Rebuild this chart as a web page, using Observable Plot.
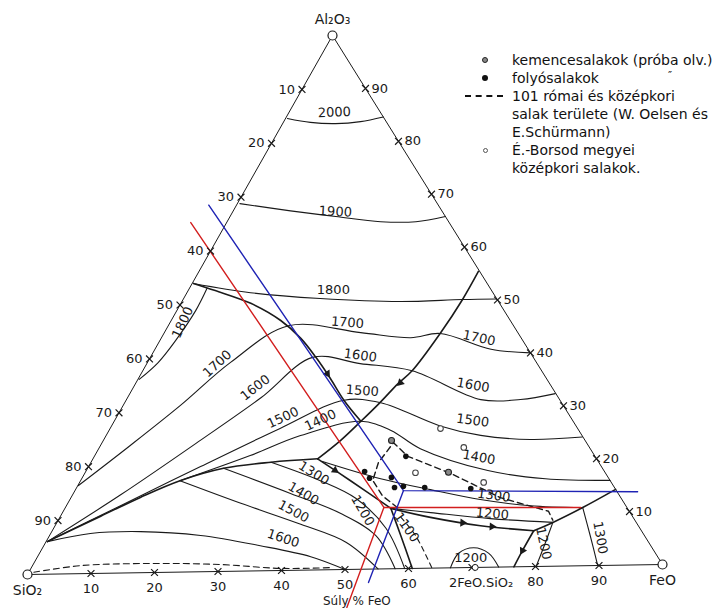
<!DOCTYPE html>
<html><head><meta charset="utf-8">
<script src="https://cdn.jsdelivr.net/npm/d3@7"></script>
<script src="https://cdn.jsdelivr.net/npm/@observablehq/plot@0.6"></script>
<style>
body{margin:0;background:#fff;}
#wrap{position:relative;width:715px;height:608px;overflow:hidden;background:#fff;}
#legend{position:absolute;left:0;top:0;width:715px;height:200px;font-family:"DejaVu Sans",sans-serif;font-size:14px;color:#111;pointer-events:none;}
.row{position:absolute;left:512px;line-height:18px;white-space:nowrap;}
.sym{position:absolute;}
</style></head>
<body><div id="wrap"><div id="chart"></div><div id="legend"></div></div>
<script>
// ---- ternary data: each point is [FeO %, Al2O3 %] (SiO2 = remainder) ----
const ticks = [10,20,30,40,50,60,70,80,90];
const baseTickText = ["10","20","30","40","50","60","2FeO.SiO₂","80","90"];
const vertexNames = ["SiO₂","FeO","Al₂O₃"];

// isotherms (°C)
const iso2000 = [[0.3,84.6],[4.3,83.8],[8.4,83.5],[12.2,83.8],[15.4,84.6]];
const iso1900 = [[0.4,68.8],[9.1,67.3],[16.8,66.1],[24.4,65.0],[30.0,64.9],[34.2,65.8]];
const iso1800 = [[0.2,54.0],[10.1,52.1],[21.7,50.8],[34.7,50.0],[44.4,50.2],[49.8,50.2]];
const iso1800arc = [[2.8,53.0],[3.0,48.9],[2.5,43.4],[1.7,39.3],[0.2,36.2]];
const iso1700 = [[0.1,16.5],[4.7,23.8],[9.1,31.2],[13.2,39.1],[19.1,45.8],[31.2,44.3],[39.6,43.2],[43.9,43.9],[53.4,40.8],[60.0,40.0]];
const iso1600 = [[0.2,6.1],[7.6,14.6],[15.4,24.6],[21.2,32.4],[25.8,39.8],[33.9,38.5],[42.8,37.0],[56.3,31.4],[62.6,31.3],[67.6,32.3]];
const iso1500 = [[0.2,6.1],[8.6,12.6],[17.8,19.7],[27.0,26.6],[34.6,31.7],[40.7,31.1],[52.2,26.6],[59.5,24.7],[67.8,23.8],[75.8,24.1]];
const iso1400 = [[15.8,17.1],[24.7,21.6],[30.9,25.2],[39.2,27.7],[44.8,25.9],[51.1,22.4],[63.8,18.1],[73.7,16.4],[84.1,15.9]];
const iso1300 = [[36.7,20.3],[47.5,16.9],[56.4,14.7],[65.2,12.7],[73.7,11.4],[82.2,10.9]];
const iso1200 = [[51.8,11.3],[58.5,10.4],[68.5,9.1],[78.8,8.2]];
const iso1300W = [[82.2,10.9],[86.0,5.5],[89.8,0]];
const iso1200W = [[78.8,8.2],[79.5,4.0],[80.1,0]];
const iso1200Fa = [[66.6,0],[66.6,2.7],[68.5,3.7],[71.4,2.6],[74.2,0]];
const iso1600S = [[0.2,6.1],[6.3,7.5],[14.1,7.7],[24.0,6.8],[34.4,4.7],[43.4,2.5],[50.0,0]];
const iso1500S = [[15.8,17.1],[27.5,12.7],[38.9,8.6],[47.7,5.1],[55.2,0]];
const iso1400S = [[21.6,19.3],[34.5,14.4],[44.3,10.5],[51.8,6.3],[57.9,0]];
const iso1300S = [[28.6,20.3],[38.1,16.7],[45.3,13.3],[52.8,7.6],[59.4,0]];
const iso1100 = [[54.2,9.6],[58.1,6.2],[63.7,0]];
const binaryDashed = [[0.8,0.4],[7.6,1.5],[18.6,1.7],[29.8,1.3],[39.7,0.4],[47.5,0.4]];

// field boundaries
const bndA = [[0.2,54.0],[4.3,52.6],[11.1,50.1],[17.4,46.8],[22.2,43.4],[26.3,39.8],[30.5,35.8],[34.6,31.7],[39.2,27.7]];
const bndB = [[44.4,55.4],[44.4,50.2],[43.9,43.9],[42.8,37.0],[41.7,34.6],[40.5,31.0],[39.2,27.7],[37.7,24.2],[35.7,20.8]];
const bndSilica = [[0.2,6.1],[6.4,10.7],[11.0,14.1],[15.8,17.1],[21.6,19.3],[28.6,20.3],[35.7,20.8]];
const bndE = [[35.7,20.8],[42.9,16.6],[51.8,11.3]];
const bndF = [[51.8,11.3],[55.8,6.2],[60.6,0]];
const bndD = [[51.8,11.3],[58.9,9.5],[67.6,7.8],[76.5,6.7]];
const bndC = [[85.8,14.2],[82.2,10.9],[78.8,8.2],[76.5,6.7]];
const bndFaW = [[76.5,6.7],[76.5,3.0],[76.6,0]];

// arrowheads on the boundaries (position, pointing direction in degrees)
const arrowPos = [[29.6,36.7],[42.0,34.8],[39.5,18.6],[64.5,8.4],[69.5,7.6],[76.5,3.0]];
const arrowDir = [147,226,124,93,93,208];

// annotation lines
const redLine = [[-5.7,65.4],[50.6,11.5],[81.9,10.9]];
const redLower = [[50.6,11.5],[53.7,-7.1]];
const blueLine = [[-4.4,68.6],[52.2,14.6],[89.5,13.7]];
const blueLower = [[52.2,14.6],[54.9,-2.5]];

// Roman / medieval slag area (dashed)
const slagArea = [[52.8,11.4],[49.3,13.7],[46.4,16.6],[45.7,19.9],[46.3,23.6],[49.8,21.0],[58.1,17.7],[68.2,13.0],[77.1,10.3],[78.6,8.6]];

// slag samples
const folyo = [[49.5,21.0],[44.3,18.3],[45.7,17.0],[49.1,17.1],[50.5,15.2],[51.8,15.4],[55.3,15.1],[62.7,14.8]];
const kemence = [[57.7,17.9],[45.8,24.0]];
const borsod = [[52.5,26.1],[57.9,22.5],[52.5,17.9],[64.2,15.9]];

// temperature labels
const labelText = ["2000","1900","1800","1800","1700","1600","1500","1400","1700","1600","1500","1700","1600","1500","1400","1300","1200","1300","1200","1200","1300","1400","1500","1600","1200","1100"];
const labelPos = [[7.2,85.6],[16.3,67.0],[23.0,52.4],[2.0,46.7],[11.2,38.9],[19.4,34.3],[26.5,28.6],[32.7,28.0],[28.2,46.2],[33.2,40.0],[36.7,33.4],[50.5,42.9],[53.8,34.1],[56.9,27.5],[61.2,20.6],[67.0,13.4],[68.4,10.0],[87.7,5.2],[79.2,4.3],[68.9,1.9],[36.4,18.1],[36.6,14.3],[36.6,11.0],[37.4,6.0],[47.5,11.0],[56.0,7.7]];
const labelAngle = [-2,3,0,-65,-42,-38,-25,-25,5,8,4,12,10,8,10,8,5,80,78,0,32,30,28,18,60,55];

const axisCaption = "Súly % FeO";
const captionPos = [[54.7,-5.9]];
const legendRows = [
  {sym:"kemence", lines:["kemencesalakok (próba olv.)"]},
  {sym:"folyo", lines:["folyósalakok"]},
  {sym:"dash", lines:["101 római és középkori","salak területe (W. Oelsen és","E.Schürmann)"]},
  {sym:"open", lines:["É.-Borsod megyei","középkori salakok."]}
];

// ---- ternary projection (drawn triangle is slightly skewed like the scan) ----
const px = d => d[0] + 0.4803 * d[1];
const py = d => d[1] + 0.01855 * d[0];

const INK = "#1a1a1a";
const FONT = "DejaVu Sans, sans-serif";

const thin = arr => Plot.line(arr, {x: px, y: py, stroke: INK, strokeWidth: 1.1, curve: "catmull-rom"});
const thick = arr => Plot.line(arr, {x: px, y: py, stroke: INK, strokeWidth: 1.6, curve: "catmull-rom"});

const leftTicks = ticks.map(t => [0, 100 - t]);
const rightTicks = ticks.map(t => [100 - t, t]);
const baseTicks = ticks.map(t => [t, 0]);
const vertices = [[0,0],[100,0],[0,100]];
const fayalite = [[70.5, 0]];

const chart = Plot.plot({
  width: 715, height: 608, margin: 0,
  x: {domain: [0, 100], range: [27, 662], axis: null},
  y: {domain: [0, 100], range: [574, 35], axis: null},
  style: {background: "#fff", fontFamily: FONT, overflow: "visible"},
  marks: [
    // triangle frame
    Plot.line([...vertices, vertices[0]], {x: px, y: py, stroke: INK, strokeWidth: 1}),
    // dashed binary curve along base
    Plot.line(binaryDashed, {x: px, y: py, stroke: INK, strokeWidth: 1.1, strokeDasharray: "6,4", curve: "catmull-rom"}),
    // isotherms
    ...[iso2000, iso1900, iso1800, iso1800arc, iso1700, iso1600, iso1500, iso1400, iso1300, iso1200,
        iso1300W, iso1200W, iso1200Fa, iso1600S, iso1500S, iso1400S, iso1300S].map(thin),
    Plot.line(iso1100, {x: px, y: py, stroke: INK, strokeWidth: 1.1, strokeDasharray: "5,4", curve: "catmull-rom"}),
    // boundaries
    ...[bndA, bndB, bndSilica, bndE, bndF, bndD, bndC, bndFaW].map(thick),
    Plot.dot(arrowPos, {x: px, y: py, symbol: "triangle", r: 3, fill: INK, rotate: (d, i) => arrowDir[i]}),
    // slag area
    Plot.line(slagArea, {x: px, y: py, stroke: INK, strokeWidth: 1.4, strokeDasharray: "6,4"}),
    // red / blue annotation lines
    Plot.line(redLine, {x: px, y: py, stroke: "#d21e1e", strokeWidth: 1.4}),
    Plot.line(redLower, {x: px, y: py, stroke: "#d21e1e", strokeWidth: 1.4}),
    Plot.line(blueLine, {x: px, y: py, stroke: "#1f23b4", strokeWidth: 1.4}),
    Plot.line(blueLower, {x: px, y: py, stroke: "#1f23b4", strokeWidth: 1.4}),
    // edge ticks
    Plot.dot([...leftTicks, ...rightTicks, ...baseTicks], {x: px, y: py, symbol: "times", r: 3.2, stroke: INK, strokeWidth: 1.2}),
    // tick labels
    Plot.text(leftTicks, {x: px, y: py, text: (d, i) => String(ticks[i]), textAnchor: "end", dx: -7, fontSize: 13, fill: INK}),
    Plot.text(rightTicks, {x: px, y: py, text: (d, i) => String(ticks[i]), textAnchor: "start", dx: 6, fontSize: 13, fill: INK}),
    Plot.text(baseTicks, {x: px, y: py, text: (d, i) => baseTickText[i], filter: (d, i) => ticks[i] !== 70, dy: 15, fontSize: 13, fill: INK}),
    Plot.text(fayalite, {x: px, y: py, text: () => baseTickText[6], dy: 15, dx: 6, fontSize: 13, fill: INK}),
    // temperature labels
    Plot.text(labelPos, {x: px, y: py, text: (d, i) => labelText[i], rotate: (d, i) => labelAngle[i], fontSize: 13, fill: INK}),
    // samples
    Plot.dot(folyo, {x: px, y: py, r: 2.8, fill: "#111"}),
    Plot.dot(kemence, {x: px, y: py, r: 3, fill: "#888", stroke: "#222", strokeWidth: 1.1}),
    Plot.dot(borsod, {x: px, y: py, r: 2.8, fill: "#fff", stroke: "#444", strokeWidth: 1.1}),
    // vertices
    Plot.dot(vertices, {x: px, y: py, r: 4.5, fill: "#fff", stroke: INK, strokeWidth: 1.2}),
    Plot.dot(fayalite, {x: px, y: py, r: 3, fill: "#fff", stroke: INK, strokeWidth: 1}),
    Plot.text(vertices, {x: px, y: py, text: (d, i) => vertexNames[i], filter: (d, i) => i < 2, dy: 16, fontSize: 14, fill: INK}),
    Plot.text(vertices, {x: px, y: py, text: (d, i) => vertexNames[i], filter: (d, i) => i === 2, dy: -16, fontSize: 14, fill: INK}),
    Plot.text(captionPos, {x: px, y: py, text: () => axisCaption, fontSize: 12, fill: INK})
  ]
});
document.getElementById("chart").appendChild(chart);

// legend (overlaid at upper right, like the original)
const lg = document.getElementById("legend");
let lineIndex = 0;
const LH = 18, TOP = 51, SYMX = 485;
legendRows.forEach(row => {
  const top = TOP + LH * lineIndex;
  const div = document.createElement("div");
  div.className = "row";
  div.style.top = top + "px";
  div.innerHTML = row.lines.join("<br>");
  lg.appendChild(div);
  const cy = top + LH / 2;
  const s = document.createElement("div");
  s.className = "sym";
  if (row.sym === "dash") {
    s.style.left = (SYMX - 20) + "px"; s.style.top = (cy - 1) + "px";
    s.style.width = "38px"; s.style.height = "0px";
    s.style.borderTop = "2px dashed #111";
  } else {
    const r = row.sym === "open" ? 2.5 : 3;
    s.style.left = (SYMX - r) + "px"; s.style.top = (cy - r) + "px";
    s.style.width = (2 * r) + "px"; s.style.height = (2 * r) + "px";
    s.style.borderRadius = "50%";
    s.style.boxSizing = "border-box";
    if (row.sym === "kemence") { s.style.background = "#888"; s.style.border = "1.2px solid #222"; }
    if (row.sym === "folyo") { s.style.background = "#111"; }
    if (row.sym === "open") { s.style.background = "#fff"; s.style.border = "1px solid #555"; }
  }
  lg.appendChild(s);
  lineIndex += row.lines.length;
});
const ditto = document.createElement("div");
ditto.className = "sym";
ditto.style.left = "668px"; ditto.style.top = "70px"; ditto.style.fontSize = "11px"; ditto.style.lineHeight = "11px";
ditto.textContent = "″";
lg.appendChild(ditto);
</script></body></html>
